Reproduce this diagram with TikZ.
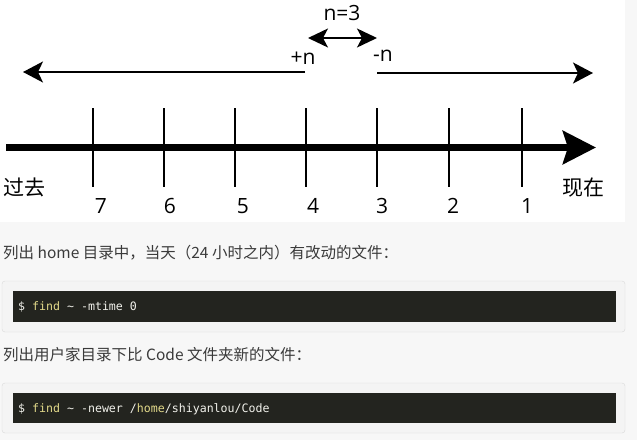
\documentclass[tikz,border=0pt]{standalone}
\usepackage{fontspec}
\setmainfont{Open Sans}
\setmonofont{DejaVu Sans Mono}
\newfontfamily\cjk{Noto Sans CJK SC}
\usetikzlibrary{arrows.meta}
\definecolor{pagegray}{HTML}{F7F7F7}
\definecolor{boxgray}{HTML}{F4F4F4}
\definecolor{boxline}{HTML}{DADADA}
\definecolor{codebg}{HTML}{23241F}
\definecolor{codefg}{HTML}{F2F2EC}
\definecolor{codekey}{HTML}{E2D98A}
\definecolor{textgray}{HTML}{3A3A3A}

\begin{document}
\begin{tikzpicture}[x=1pt, y=-1pt,
    tick/.style={line width=1.5pt},
    thinarrow/.style={line width=1.5pt, -{Stealth[length=20pt,width=21pt,inset=5pt]}},
    bothways/.style={line width=1.5pt, {Stealth[length=20pt,width=19pt,inset=5pt]}-{Stealth[length=20pt,width=19pt,inset=5pt]}},
    lbl/.style={inner sep=0pt, font=\fontsize{21}{21}\selectfont},
    hanzi/.style={inner sep=0pt, font=\cjk\fontsize{21}{21}\selectfont},
    para/.style={anchor=west, inner sep=0pt, text=textgray, font=\cjk\fontsize{15.5}{15.5}\selectfont},
    code/.style={anchor=west, inner sep=0pt, text=codefg, font=\ttfamily\fontsize{11.6}{11.6}\selectfont}]
    \useasboundingbox (0,0) rectangle (637,440);
    % Page and the white area of the figure.
        \fill[pagegray] (0,0) rectangle (637,440);
        \fill[white] (0,0) rectangle (625,222);
    % This draws the time axis.
        \coordinate (past) at (6,147.5);
        \coordinate (now) at (596,147.5);
        \draw[line width=7pt, -{Stealth[length=33pt,width=33pt,inset=5pt]}] (past) -- (now);
        \foreach \x/\lx/\d in {93/101/7, 164/170/6, 235/243/5, 306/313/4, 377/382/3, 449/453/2, 522/527/1} {
            \draw[tick] (\x,108) coordinate (top\d) -- (\x,187) coordinate (bot\d);
            \node[lbl] (day\d) at (\lx,206) {\d};
        }
        \node[hanzi] (guoqu) at (24,187) {过去};
        \node[hanzi] (xianzai) at (583,188) {现在};
    % Below are the +n, -n and n=3 arrows.
        \coordinate (plusend) at (305,72);
        \coordinate (pastend) at (23,72);
        \coordinate (minusend) at (377,73);
        \coordinate (nowend) at (593,73);
        \draw[thinarrow] (plusend) -- (pastend);
        \draw[thinarrow] (minusend) -- (nowend);
        \coordinate (spanl) at (308,38);
        \coordinate (spanr) at (377,38);
        \draw[bothways] (spanl) -- (spanr);
        \node[lbl] (nval) at (342,13) {n=3};
        \node[lbl] (plusn) at (303,58) {+n};
        \node[lbl] (minusn) at (383,56) {-n};
    % The text and the two code blocks.
        \node[para] (line1) at (3,253) {列出 home 目录中，当天（24 小时之内）有改动的文件：};
        \draw[boxline, fill=boxgray, rounded corners=3pt] (2,281) rectangle (625,332);
        \fill[codebg] (13,291) rectangle (616,322);
        \node[code] (cmd1) at (18,307) {\$ \textcolor{codekey}{find} \textasciitilde{} -mtime 0};
        \node[para] (line2) at (3,355) {列出用户家目录下比 Code 文件夹新的文件：};
        \draw[boxline, fill=boxgray, rounded corners=3pt] (2,383) rectangle (625,433);
        \fill[codebg] (13,393) rectangle (616,423);
        \node[code] (cmd2) at (18,409) {\$ \textcolor{codekey}{find} \textasciitilde{} -newer /\textcolor{codekey}{home}/shiyanlou/Code};
\end{tikzpicture}
\end{document}
